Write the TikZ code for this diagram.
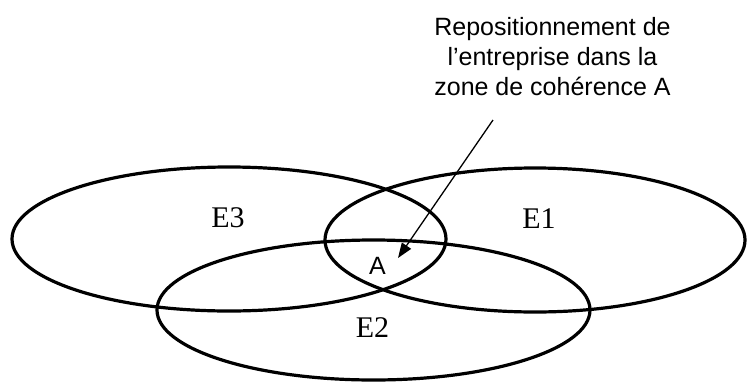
\documentclass[tikz,border=0pt]{standalone}
\usepackage{fontspec}
\setmainfont{Liberation Serif}
\newfontfamily\arialfont{Liberation Sans}
\usetikzlibrary{arrows.meta,shapes.geometric}

\begin{document}
\begin{tikzpicture}[x=1pt,y=-1pt,
    zone/.style={ellipse,draw,line width=3.2pt,inner sep=0pt},
    setlabel/.style={anchor=base,inner sep=0pt,font=\fontsize{30}{36}\selectfont},
    note/.style={anchor=base,inner sep=0pt,align=center,font=\arialfont\fontsize{25}{30}\selectfont}]
  \useasboundingbox (0,0) rectangle (747,381);
  % the three sets
  \node[zone,minimum width=434pt,minimum height=144pt] (e3) at (229,239) {};
  \node[zone,minimum width=420pt,minimum height=144pt] (e1) at (535,240) {};
  \node[zone,minimum width=433pt,minimum height=140pt] (e2) at (373.5,310) {};
  \node[setlabel] (l3) at (228,227) {E3};
  \node[setlabel] (l1) at (539,228) {E1};
  \node[setlabel] (l2) at (372.5,337) {E2};
  \node[note] (a) at (377.5,274) {A};
  % annotation and its arrow
  \node[note] (txt) at (552.5,95) {Repositionnement de\\l’entreprise dans la\\zone de cohérence A};
  \coordinate (tail) at (493,120);
  \coordinate (tip) at (398,258);
  \draw[line width=1.3pt,-{Triangle[length=15pt,width=11pt]}] (tail) -- (tip);
\end{tikzpicture}
\end{document}
